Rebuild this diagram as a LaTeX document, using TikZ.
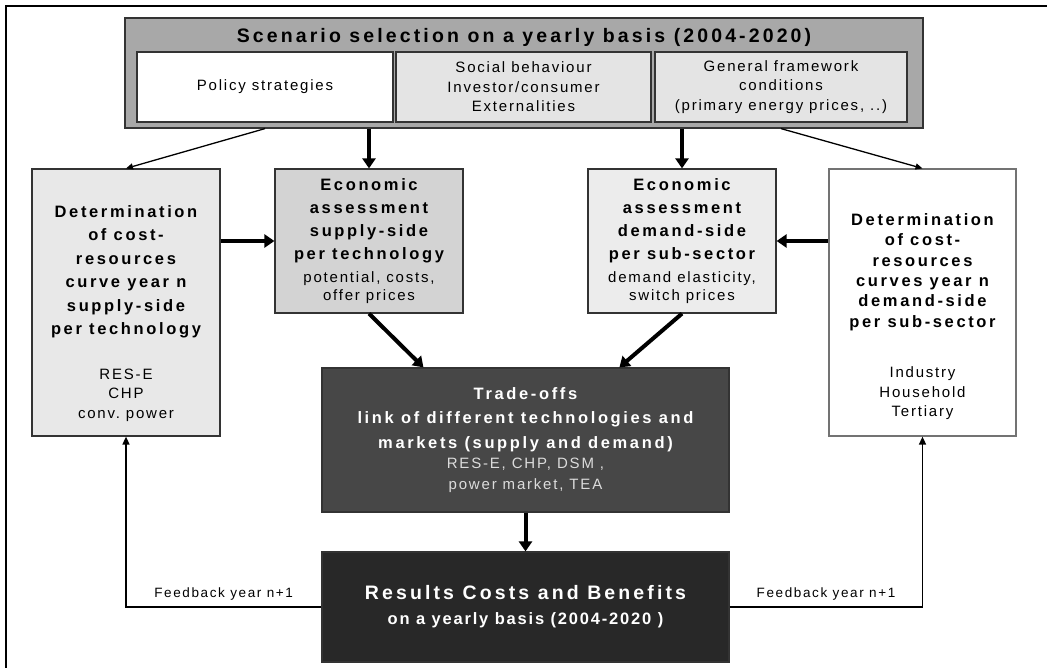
\documentclass[tikz,border=0pt]{standalone}
\usepackage{fontspec}
\setmainfont{Liberation Sans}
\newfontfamily\wideregular[LetterSpace=12]{Liberation Sans}
\newfontfamily\widebold[LetterSpace=16]{Liberation Sans}
\newfontfamily\midbold[LetterSpace=11]{Liberation Sans}
\usetikzlibrary{arrows.meta,calc}

\definecolor{topgray}{HTML}{A8A8A8}
\definecolor{palegray}{HTML}{E4E4E4}
\definecolor{leftgray}{HTML}{E8E8E8}
\definecolor{supgray}{HTML}{D3D3D3}
\definecolor{demgray}{HTML}{ECECEC}
\definecolor{tradegray}{HTML}{474747}
\definecolor{resgray}{HTML}{282828}
\definecolor{tradesmall}{HTML}{DCDCDC}

% plain word spaces inside centred text-width nodes
\newcommand\nospace{\spaceskip=0pt\xspaceskip=0pt\frenchspacing
  \leftskip=0pt plus 1fil\rightskip=0pt plus 1fil\parfillskip=0pt}
\newcommand\headfont{\widebold\bfseries\fontsize{19.5}{23}\selectfont\nospace}
\newcommand\boxfont{\widebold\bfseries\fontsize{16.5}{23}\selectfont\nospace}
\newcommand\subfont{\midbold\bfseries\fontsize{16.5}{25}\selectfont\nospace}
\newcommand\smallfont{\wideregular\fontsize{15}{19.5}\selectfont\nospace}
\newcommand\fbfont{\wideregular\fontsize{13.5}{16}\selectfont}

\begin{document}
\begin{tikzpicture}[x=1pt,y=-1pt,>=Stealth,
  blk/.style={draw=black!80,line width=1.2pt,inner sep=0pt,align=center},
  narrow/.style={blk,minimum width=188pt,text width=184pt},
  thin/.style={line width=1.3pt,-{Triangle[length=7pt,width=6pt]}},
  thick/.style={line width=4pt,-{Triangle[length=10pt,width=13pt]}},
  fbline/.style={line width=1.5pt,-{Triangle[length=8pt,width=7pt]}}]
  \useasboundingbox (0,0) rectangle (1047,667);
  \draw[line width=2pt] (6,680) -- (6,6) -- (1060,6);

  \node[blk,fill=topgray,minimum width=798pt,minimum height=110pt] (scen) at (524,73) {};
  \node[font=\headfont,inner sep=0pt] (title) at (524,37)
    {Scenario selection on a yearly basis (2004-2020)};
  \node[blk,fill=white,minimum width=256pt,minimum height=70pt,font=\smallfont] (pol) at (265,87)
    {Policy strategies};
  \node[blk,fill=palegray,minimum width=255pt,minimum height=70pt,text width=248pt] (soc) at (523.5,87)
    {\smallfont Social behaviour\\Investor/consumer\\Externalities\par};
  \node[blk,fill=palegray,minimum width=252pt,minimum height=70pt,text width=248pt] (gen) at (781,87)
    {\smallfont General framework\\conditions\\(primary energy prices, ..)\par};

  \node[narrow,fill=leftgray,minimum height=267pt] (detS) at (126,302.5)
    {\par\vspace*{10pt}{\boxfont\baselineskip=23.5pt Determination\\of cost-\\resources\\curve year n\\supply-side\\per technology\par}
     \vspace{25pt}{\smallfont RES-E\\CHP\\conv. power\par}};
  \node[narrow,fill=supgray,minimum height=144pt] (ecoS) at (369,241)
    {{\boxfont Economic\\assessment\\supply-side\\per technology\par}
     \vspace{5pt}{\smallfont\baselineskip=18pt potential, costs,\\offer prices\par}};
  \node[narrow,fill=demgray,minimum height=144pt] (ecoD) at (682,241)
    {{\boxfont Economic\\assessment\\demand-side\\per sub-sector\par}
     \vspace{5pt}{\smallfont\baselineskip=18pt demand elasticity,\\switch prices\par}};
  \node[narrow,fill=white,draw=black!55,minimum width=187pt,minimum height=267pt] (detD) at (922.5,302.5)
    {\par\vspace*{20pt}{\boxfont\baselineskip=20.4pt Determination\\of cost-\\resources\\curves year n\\demand-side\\per sub-sector\par}
     \vspace{31pt}{\smallfont Industry\\Household\\Tertiary\par}};

  \node[blk,fill=tradegray,text=white,minimum width=407pt,minimum height=144pt,text width=400pt] (trade) at (525.5,440)
    {{\boxfont\baselineskip=24.5pt Trade-offs\\link of different technologies and\\markets (supply and demand)\par}
     {\color{tradesmall}\smallfont\baselineskip=20.5pt RES-E, CHP, DSM ,\\power market, TEA\par}};
  \node[blk,fill=resgray,text=white,minimum width=407pt,minimum height=110pt,text width=400pt] (res) at (525.5,607)
    {{\headfont Results Costs and Benefits\par}{\subfont on a yearly basis (2004-2020 )\par}};

  \draw[thin] (scen.south -| pol) -- (detS.north);
  \draw[thin] (scen.south -| gen) -- (detD.north);
  \draw[thick] (scen.south -| ecoS) -- (ecoS.north);
  \draw[thick] (scen.south -| ecoD) -- (ecoD.north);
  \draw[thick] (detS.east |- ecoS) -- (ecoS.west);
  \draw[thick] (detD.west |- ecoD) -- (ecoD.east);
  \draw[thick] (ecoS.south) -- ($(trade.north west)!0.25!(trade.north east)$);
  \draw[thick] (ecoD.south) -- ($(trade.north west)!0.73!(trade.north east)$);
  \draw[thick] (trade.south) -- (res.north);
  \draw[fbline] (res.west) -- node[above=3pt,font=\fbfont] {Feedback year n+1}
    (res.west -| detS.south) -- (detS.south);
  \draw[fbline] (res.east) -- node[above=3pt,font=\fbfont] {Feedback year n+1}
    (res.east -| detD.south) -- (detD.south);
\end{tikzpicture}
\end{document}
